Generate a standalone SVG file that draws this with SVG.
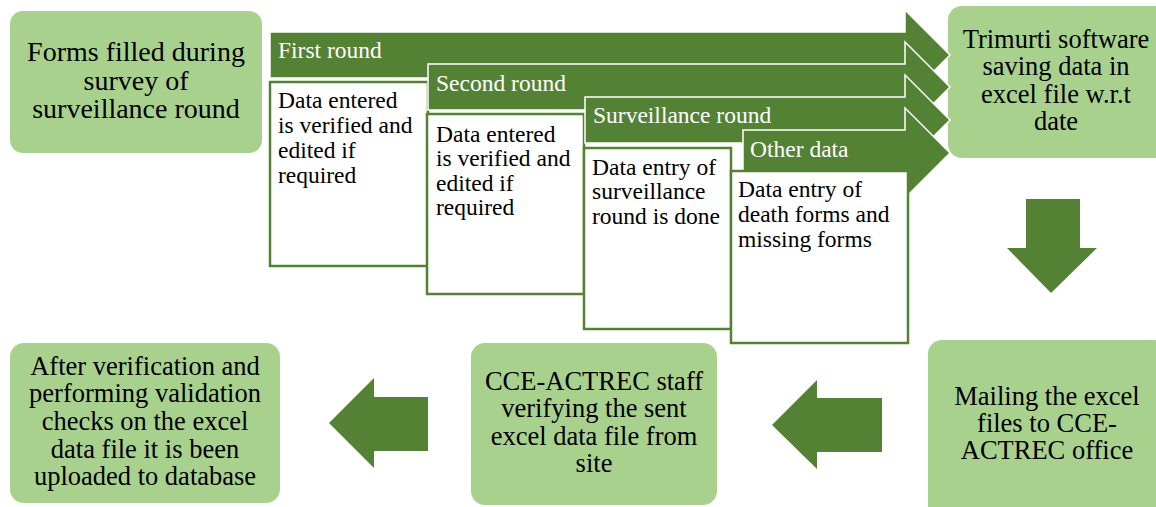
<svg xmlns="http://www.w3.org/2000/svg" width="1156" height="507" viewBox="0 0 1156 507">
<style>
.node{fill:#a9d18e;}
.nt{font-size:26.5px;fill:#000;text-anchor:middle;}
.n1{font-size:28px;}
.arr{fill:#548235;stroke:#ffffff;stroke-width:1.5;stroke-linejoin:miter;}
.blk{fill:#548235;}
.box{fill:#ffffff;stroke:#548235;stroke-width:2.5;}
.hd{font-size:23.5px;fill:#ffffff;}
.bt{font-size:23.5px;fill:#000;}
</style>
<rect width="1156" height="507" fill="#ffffff"/>
<g id="n-forms">
<rect class="node" x="10" y="11" width="252" height="142" rx="13"/>
<text font-family="Liberation Serif" class="nt n1" x="136" y="61">Forms filled during</text>
<text font-family="Liberation Serif" class="nt n1" x="136" y="90">survey of</text>
<text font-family="Liberation Serif" class="nt n1" x="136" y="118">surveillance round</text>
</g>
<g id="n-trimurti">
<rect class="node" x="948" y="6" width="222" height="152" rx="14"/>
<text font-family="Liberation Serif" class="nt" x="1056" y="48">Trimurti software</text>
<text font-family="Liberation Serif" class="nt" x="1056" y="75">saving data in</text>
<text font-family="Liberation Serif" class="nt" x="1056" y="103">excel file w.r.t</text>
<text font-family="Liberation Serif" class="nt" x="1056" y="130">date</text>
</g>
<g id="connectors">
<g id="c-first">
<path class="arr" d="M270,32 L905,32 L905,10 L950,55 L905,100 L905,78 L270,78 Z"/>
<text font-family="Liberation Serif" class="hd" x="278" y="58">First round</text>
</g>
<g id="n-box1">
<rect class="box" x="270" y="82" width="158" height="184"/>
<text font-family="Liberation Serif" class="bt" x="278" y="108">Data entered</text>
<text font-family="Liberation Serif" class="bt" x="278" y="133">is verified and</text>
<text font-family="Liberation Serif" class="bt" x="278" y="158">edited if</text>
<text font-family="Liberation Serif" class="bt" x="278" y="183">required</text>
</g>
<g id="c-second">
<path class="arr" d="M428,64 L905,64 L905,42 L950,87 L905,132 L905,110 L428,110 Z"/>
<text font-family="Liberation Serif" class="hd" x="436" y="91">Second round</text>
</g>
<g id="n-box2">
<rect class="box" x="427" y="114" width="157" height="180"/>
<text font-family="Liberation Serif" class="bt" x="436" y="142">Data entered</text>
<text font-family="Liberation Serif" class="bt" x="436" y="166">is verified and</text>
<text font-family="Liberation Serif" class="bt" x="436" y="191">edited if</text>
<text font-family="Liberation Serif" class="bt" x="436" y="215">required</text>
</g>
<g id="c-surv">
<path class="arr" d="M585,97 L905,97 L905,75 L950,120 L905,165 L905,143 L585,143 Z"/>
<text font-family="Liberation Serif" class="hd" x="593" y="123">Surveillance round</text>
</g>
<g id="n-box3">
<rect class="box" x="584" y="148" width="147" height="181"/>
<text font-family="Liberation Serif" class="bt" x="592" y="175">Data entry of</text>
<text font-family="Liberation Serif" class="bt" x="592" y="199">surveillance</text>
<text font-family="Liberation Serif" class="bt" x="592" y="224">round is done</text>
</g>
<g id="c-other">
<path class="arr" d="M743,130 L905,130 L905,108 L950,153 L905,198 L905,176 L743,176 Z"/>
<text font-family="Liberation Serif" class="hd" x="750" y="157">Other data</text>
</g>
<g id="n-box4">
<rect class="box" x="731" y="171" width="177" height="172"/>
<text font-family="Liberation Serif" class="bt" x="738" y="197">Data entry of</text>
<text font-family="Liberation Serif" class="bt" x="738" y="222">death forms and</text>
<text font-family="Liberation Serif" class="bt" x="738" y="247">missing forms</text>
</g>
<path id="c-down" class="blk" d="M1026,199 L1080,199 L1080,248 L1097,248 L1051,293 L1007,248 L1026,248 Z"/>
<path id="c-left1" class="blk" d="M772,425 L817,380 L817,398 L882,398 L882,452 L817,452 L817,469 Z"/>
<path id="c-left2" class="blk" d="M329,423 L374,378 L374,397 L428,397 L428,451 L374,451 L374,468 Z"/>
</g>
<g id="n-mailing">
<rect class="node" x="928" y="340" width="240" height="180" rx="14"/>
<text font-family="Liberation Serif" class="nt" x="1047" y="405">Mailing the excel</text>
<text font-family="Liberation Serif" class="nt" x="1047" y="432">files to CCE-</text>
<text font-family="Liberation Serif" class="nt" x="1047" y="459">ACTREC office</text>
</g>
<g id="n-cce">
<rect class="node" x="471" y="343" width="246" height="162" rx="14"/>
<text font-family="Liberation Serif" class="nt" x="594" y="390">CCE-ACTREC staff</text>
<text font-family="Liberation Serif" class="nt" x="594" y="417">verifying the sent</text>
<text font-family="Liberation Serif" class="nt" x="594" y="445">excel data file from</text>
<text font-family="Liberation Serif" class="nt" x="594" y="472">site</text>
</g>
<g id="n-final">
<rect class="node" x="10" y="343" width="270" height="160" rx="14"/>
<text font-family="Liberation Serif" class="nt" x="145" y="375">After verification and</text>
<text font-family="Liberation Serif" class="nt" x="145" y="402">performing validation</text>
<text font-family="Liberation Serif" class="nt" x="145" y="430">checks on the excel</text>
<text font-family="Liberation Serif" class="nt" x="145" y="458">data file it is been</text>
<text font-family="Liberation Serif" class="nt" x="145" y="485">uploaded to database</text>
</g>
</svg>
